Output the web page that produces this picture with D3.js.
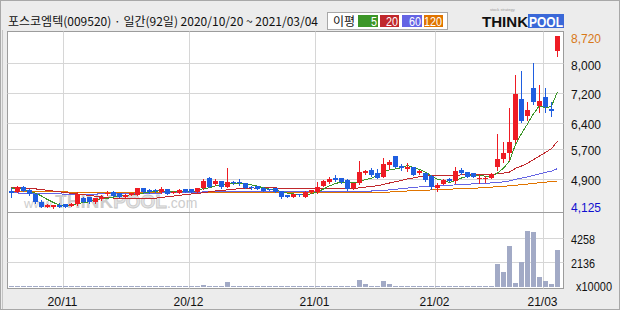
<!DOCTYPE html>
<html><head><meta charset="utf-8">
<script src="https://cdn.jsdelivr.net/npm/d3@7"></script>
<style>
html,body{margin:0;padding:0;background:#ececec;}
svg{display:block;}
</style></head><body>
<svg id="chart" width="620" height="310"></svg>
<script>
// ---------------- DATA ----------------
const title = "포스코엠텍(009520) · 일간(92일) 2020/10/20 ~ 2021/03/04";
const dates = [
"2020-10-20","2020-10-21","2020-10-22","2020-10-23","2020-10-26","2020-10-27","2020-10-28","2020-10-29","2020-10-30",
"2020-11-02","2020-11-03","2020-11-04","2020-11-05","2020-11-06","2020-11-09","2020-11-10","2020-11-11","2020-11-12","2020-11-13",
"2020-11-16","2020-11-17","2020-11-18","2020-11-19","2020-11-20","2020-11-23","2020-11-24","2020-11-25","2020-11-26","2020-11-27","2020-11-30",
"2020-12-01","2020-12-02","2020-12-03","2020-12-04","2020-12-07","2020-12-08","2020-12-09","2020-12-10","2020-12-11",
"2020-12-14","2020-12-15","2020-12-16","2020-12-17","2020-12-18","2020-12-21","2020-12-22","2020-12-23","2020-12-24","2020-12-28","2020-12-29","2020-12-30",
"2021-01-04","2021-01-05","2021-01-06","2021-01-07","2021-01-08","2021-01-11","2021-01-12","2021-01-13","2021-01-14","2021-01-15",
"2021-01-18","2021-01-19","2021-01-20","2021-01-21","2021-01-22","2021-01-25","2021-01-26","2021-01-27","2021-01-28","2021-01-29",
"2021-02-01","2021-02-02","2021-02-03","2021-02-04","2021-02-05","2021-02-08","2021-02-09","2021-02-10",
"2021-02-15","2021-02-16","2021-02-17","2021-02-18","2021-02-19","2021-02-22","2021-02-23","2021-02-24","2021-02-25","2021-02-26",
"2021-03-02","2021-03-03","2021-03-04"];
const opens = [4569,4550,4684,4596,4488,4260,4150,4140,4185,4210,
4175,4220,4370,4400,4265,4345,4500,4550,4505,4415,
4461,4461,4641,4596,4585,4550,4615,4515,4525,4615,
4615,4550,4641,4910,4750,4837,4684,4818,4810,4775,
4684,4703,4657,4615,4641,4569,4461,4416,4488,4416,
4540,4535,4710,4810,4926,4910,4864,4641,4775,5044,
5133,5060,4953,5267,5508,5240,5160,5205,5044,5044,
4971,4643,4757,4900,4837,5133,5070,5044,4890,4890,
4926,5220,5420,5580,5938,7039,6590,7326,6859,7100,
6762,8336];
const highs = [4657,4700,4700,4610,4500,4327,4210,4200,4240,4230,
4235,4550,4400,4420,4390,4460,4580,4565,4520,4480,
4520,4660,4660,4610,4610,4684,4630,4570,4610,4630,
4625,4660,4900,4940,4890,4850,5194,4830,4880,4790,
4700,4715,4670,4630,4655,4580,4470,4495,4500,4565,
4600,4818,4860,4950,4990,4925,4880,4790,5374,5140,
5180,5150,5446,5410,5520,5294,5330,5220,5130,5060,
5000,4790,4880,4920,5220,5180,5085,5060,4998,4970,
5040,6091,5890,6790,7683,7799,6966,8013,7415,7342,
6966,8720];
const lows = [4416,4535,4560,4470,4250,4135,4140,4125,4130,4140,
4165,4195,4265,4250,4255,4335,4470,4430,4400,4405,
4450,4450,4540,4525,4540,4515,4475,4505,4515,4540,
4540,4540,4620,4670,4740,4650,4670,4765,4730,4645,
4630,4610,4555,4585,4540,4390,4405,4405,4435,4405,
4525,4520,4700,4775,4850,4790,4600,4630,4760,5030,
4970,4926,4940,5151,5200,5140,5100,4990,5030,4850,
4615,4570,4745,4830,4790,5020,4940,4940,4775,4820,
4910,5133,5356,5401,5884,6430,6475,6905,6690,6690,
6590,8202];
const closes = [4507,4684,4577,4488,4280,4150,4193,4180,4140,4150,
4220,4480,4280,4265,4370,4415,4520,4443,4415,4461,
4505,4641,4550,4535,4570,4615,4488,4550,4596,4550,
4550,4641,4837,4684,4837,4668,4818,4775,4785,4657,
4640,4622,4569,4596,4550,4416,4416,4480,4450,4550,
4585,4668,4845,4880,4864,4800,4615,4775,5070,5113,
4998,4926,5294,5356,5220,5180,5220,4998,5113,4864,
4684,4730,4864,4845,5106,5044,4953,4953,4926,4926,
5025,5420,5597,5892,7173,6448,6744,6950,6985,6832,
6710,8720];
// volume, unit x10000 shares
const volumes = [60,55,50,45,70,65,50,55,45,40,
50,140,55,45,40,50,60,45,40,35,
45,140,50,45,40,40,50,45,40,45,
40,50,230,170,170,60,480,140,140,60,
50,45,40,45,50,55,45,40,45,60,
70,130,130,130,60,55,60,50,650,260,
170,170,570,260,120,60,55,50,45,60,
70,55,50,45,170,60,50,45,50,55,
60,2040,1360,3540,425,2210,4810,4730,905,565,
340,3200];
const ma5 = [4650,4640,4610,4570,4507,4436,4338,4258,4189,4163,
4177,4234,4254,4279,4323,4362,4370,4403,4433,4451,
4469,4493,4514,4538,4560,4582,4552,4552,4564,4560,
4547,4577,4635,4652,4710,4733,4769,4756,4777,4741,
4735,4696,4655,4617,4595,4551,4509,4492,4462,4462,
4496,4547,4620,4706,4768,4811,4801,4787,4825,4875,
4914,4976,5080,5137,5159,5195,5254,5195,5146,5075,
4976,4878,4851,4797,4846,4918,4962,4980,4996,4960,
4957,5050,5179,5372,5821,6106,6371,6641,6860,6792,
6844,7239];
const ma20 = [4660,4655,4650,4640,4625,4605,4585,4565,4545,4525,
4505,4490,4470,4450,4430,4410,4395,4380,4368,4361,
4361,4359,4357,4360,4374,4397,4412,4431,4453,4473,
4490,4498,4526,4547,4570,4583,4598,4614,4633,4643,
4649,4648,4649,4652,4651,4641,4638,4634,4627,4627,
4629,4630,4631,4640,4642,4648,4638,4638,4652,4675,
4693,4708,4745,4783,4816,4854,4894,4920,4954,4969,
4974,4977,4978,4976,4989,5001,5018,5027,5019,5010,
5011,5036,5051,5078,5176,5239,5315,5413,5506,5605,
5706,5906];
const ma60 = [4520,4515,4510,4505,4500,4496,4492,4490,4488,4486,
4485,4485,4485,4486,4487,4488,4490,4492,4494,4496,
4498,4500,4503,4506,4510,4514,4518,4522,4526,4530,
4534,4538,4542,4546,4550,4553,4556,4558,4560,4561,
4562,4561,4560,4559,4558,4556,4554,4552,4550,4550,
4550,4551,4552,4553,4554,4555,4555,4556,4558,4560,
4568,4572,4584,4598,4614,4631,4648,4662,4678,4690,
4698,4702,4712,4721,4733,4744,4751,4760,4768,4776,
4785,4798,4815,4838,4881,4912,4949,4989,5029,5067,
5103,5171];
const ma120 = [4565,4562,4559,4556,4553,4550,4548,4546,4544,4542,
4540,4538,4537,4536,4535,4534,4533,4532,4531,4530,
4529,4528,4528,4527,4527,4526,4526,4525,4525,4525,
4525,4525,4525,4525,4525,4525,4525,4525,4525,4525,
4525,4525,4525,4525,4525,4525,4525,4525,4525,4525,
4525,4525,4525,4525,4525,4525,4525,4525,4525,4526,
4527,4528,4534,4540,4548,4558,4569,4576,4583,4590,
4597,4604,4610,4617,4624,4630,4636,4642,4650,4660,
4672,4684,4695,4707,4722,4738,4755,4772,4790,4806,
4821,4837];
const maLabels = ["5","20","60","120"];
const priceTicks = [8000,7200,6400,5700,4900];
const priceTickLabels = ["8,000","7,200","6,400","5,700","4,900"];
const volumeTicks = [4258,2136];
const volumeUnitLabel = "x10000";

// ---------------- STYLE / LAYOUT ----------------
const C = {
  up:"#ee1c24", down:"#1f5ee0", ma5:"#3c9628", ma20:"#c0282c", ma60:"#6464e4", ma120:"#e07400",
  grid:"#d6d6d6", vol:"#a2aac6", frame:"#9c9c9c"
};
const maColors = [C.ma5, C.ma20, C.ma60, C.ma120];
const plot = {x0:7.5, x1:563.5, y0:31.5, y1:288.5, split:212.5};
const numFont = '"Liberation Sans", Arial, sans-serif';
const krFont = '"Noto Sans CJK KR", "Noto Sans", sans-serif';

const svg = d3.select("#chart");
const N = dates.length;

// outer frame
svg.append("rect").attr("x",0.5).attr("y",0.5).attr("width",619).attr("height",309)
  .attr("fill","#ececec").attr("stroke","#a8a8a8");
svg.append("line").attr("x1",2.5).attr("x2",2.5).attr("y1",30).attr("y2",309).attr("stroke","#c4c4c4");

// plot box
svg.append("rect").attr("x",plot.x0).attr("y",plot.y0).attr("width",plot.x1-plot.x0).attr("height",plot.y1-plot.y0)
  .attr("fill","#fff").attr("stroke",C.frame);

// scales
const x = d3.scaleBand().domain(d3.range(N)).range([8.5, 560.5]).paddingInner(1/6).paddingOuter(1/12);
const cx = i => x(i) + x.bandwidth()/2;
const minP = d3.min(lows), maxP = d3.max(highs);
const y = d3.scaleLinear().domain([minP, maxP]).range([207.5, 36.4]);
const yv = d3.scaleLinear().domain([0, 6390]).range([287.5, 212.5]);
const snap = v => Math.round(v) + 0.5;

const g = svg.append("g");

// gridlines: price
g.selectAll(".pg").data(priceTicks).join("line")
  .attr("x1",plot.x0).attr("x2",plot.x1)
  .attr("y1",d=>snap(y(d))).attr("y2",d=>snap(y(d)))
  .attr("stroke",C.grid);
// gridlines: volume
g.selectAll(".vg").data(volumeTicks).join("line")
  .attr("x1",plot.x0).attr("x2",plot.x1)
  .attr("y1",d=>snap(yv(d))).attr("y2",d=>snap(yv(d)))
  .attr("stroke",C.grid);
// month boundaries
const monthStarts = d3.range(1,N).filter(i => dates[i].slice(0,7) !== dates[i-1].slice(0,7));
const bx = i => (cx(i-1)+cx(i))/2;
g.selectAll(".mg").data(monthStarts).join("line")
  .attr("x1",i=>Math.round(bx(i))+0.5).attr("x2",i=>Math.round(bx(i))+0.5)
  .attr("y1",plot.y0).attr("y2",plot.y1).attr("stroke",C.grid);
// panel separator
g.append("line").attr("x1",plot.x0).attr("x2",plot.x1).attr("y1",plot.split).attr("y2",plot.split).attr("stroke",C.frame);

// watermark
const wm = g.append("text").attr("x",24).attr("y",208).attr("fill","#cdcdcd")
  .attr("font-family",numFont).attr("font-weight","bold");
wm.append("tspan").attr("font-size",13).attr("font-weight","normal").text("www.");
wm.append("tspan").attr("font-size",19).text("THINK");
wm.append("tspan").attr("font-size",19).attr("fill","#e4e4e4").attr("stroke","#c8c8c8").attr("stroke-width",0.8).text("POOL");
wm.append("tspan").attr("font-size",14).attr("font-weight","normal").text(".com");

// volume bars
g.selectAll(".vb").data(volumes).join("rect")
  .attr("x",(d,i)=>x(i)).attr("width",x.bandwidth())
  .attr("y",d=>Math.min(Math.round(yv(d)), 286))
  .attr("height",d=>Math.max(1, 287.5 - Math.min(Math.round(yv(d)),286) - 0.5))
  .attr("fill",C.vol);

// moving averages
const mas = [ma120, ma60, ma20, ma5];
const masCol = [C.ma120, C.ma60, C.ma20, C.ma5];
const line = d3.line().x((d,i)=>cx(i)).y(d=>y(d));
mas.forEach((arr,k)=>{
  g.append("path").attr("d",line(arr)).attr("fill","none")
   .attr("stroke",masCol[k]).attr("stroke-width",1).attr("shape-rendering","crispEdges");
});

// candles
const cg = g.selectAll(".cd").data(d3.range(N)).join("g");
cg.append("line")
  .attr("x1",i=>cx(i)).attr("x2",i=>cx(i))
  .attr("y1",i=>Math.round(y(highs[i]))).attr("y2",i=>Math.round(y(lows[i]))+1)
  .attr("stroke",i=>closes[i]>=opens[i]?C.up:C.down).attr("stroke-width",1);
cg.append("rect")
  .attr("x",i=>x(i)).attr("width",x.bandwidth())
  .attr("y",i=>Math.round(y(Math.max(opens[i],closes[i]))))
  .attr("height",i=>Math.max(1, Math.round(y(Math.min(opens[i],closes[i]))) - Math.round(y(Math.max(opens[i],closes[i])))))
  .attr("fill",i=>closes[i]>=opens[i]?C.up:C.down);

// right axis labels
const lab = (sel) => sel.attr("font-family",numFont).attr("font-size",13)
  .attr("lengthAdjust","spacingAndGlyphs");
svg.selectAll(".pl").data(priceTicks).join("text")
  .call(lab).attr("x",571).attr("y",d=>y(d)+6.5)
  .attr("textLength",(d,i)=>priceTickLabels[i].length*6)
  .attr("fill","#111").text((d,i)=>priceTickLabels[i]);
const fmt = d3.format(",");
svg.append("text").call(lab).attr("x",571).attr("y",y(maxP)+6.5)
  .attr("textLength",fmt(maxP).length*6).attr("fill","#d87818").text(fmt(maxP));
svg.append("text").call(lab).attr("x",571).attr("y",Math.min(y(minP),206)+6)
  .attr("textLength",fmt(minP).length*6).attr("fill","#1010d0").text(fmt(minP));
svg.selectAll(".vl").data(volumeTicks).join("text")
  .call(lab).attr("x",571).attr("y",d=>yv(d)+6)
  .attr("textLength",d=>String(d).length*6)
  .attr("fill","#111").text(d=>String(d));
svg.append("text").call(lab).attr("x",576).attr("y",291)
  .attr("textLength",volumeUnitLabel.length*6).attr("fill","#111").text(volumeUnitLabel);

// x axis labels
svg.selectAll(".xl").data(monthStarts).join("text")
  .call(lab).attr("x",i=>bx(i)).attr("y",305.5).attr("text-anchor","middle")
  .attr("textLength",30).attr("fill","#111")
  .text(i=>dates[i].slice(2,4)+"/"+dates[i].slice(5,7));

// title
svg.append("text").attr("x",8).attr("y",26).attr("font-family",krFont).attr("font-size",12)
  .attr("fill","#111").text(title);

// legend
svg.append("rect").attr("x",327.5).attr("y",12.5).attr("width",120).attr("height",17)
  .attr("fill","#fff").attr("stroke","#a8a8a8");
svg.append("text").attr("x",333).attr("y",25.5).attr("font-family",krFont).attr("font-size",12)
  .attr("fill","#111").text("이평");
const lgX = [358,380,402,424], lgW = [20,19,20,19];
maLabels.forEach((t,k)=>{
  svg.append("rect").attr("x",lgX[k]).attr("y",15).attr("width",lgW[k]).attr("height",12).attr("fill",maColors[k]);
  svg.append("text").attr("x",lgX[k]+lgW[k]-1).attr("y",25.5).attr("text-anchor","end")
    .attr("font-family",numFont).attr("font-size",12.5)
    .attr("textLength",t.length*6).attr("lengthAdjust","spacingAndGlyphs")
    .attr("fill","#fff").text(t);
});

// logo
const lg = svg.append("g");
lg.append("text").attr("x",482).attr("y",27).attr("font-family",numFont).attr("font-weight","bold")
  .attr("font-size",15).attr("textLength",46).attr("lengthAdjust","spacingAndGlyphs").attr("fill","#111").text("THINK");
lg.append("rect").attr("x",528).attr("y",14).attr("width",36).attr("height",14).attr("fill","#3a68d8");
lg.append("text").attr("x",529).attr("y",27).attr("font-family",numFont).attr("font-weight","bold")
  .attr("font-size",15).attr("textLength",34).attr("lengthAdjust","spacingAndGlyphs").attr("fill","#fff").text("POOL");
lg.append("text").attr("x",490).attr("y",11).attr("font-family",numFont).attr("font-size",4)
  .attr("fill","#999").text("stock strategy");
</script>
</body></html>
